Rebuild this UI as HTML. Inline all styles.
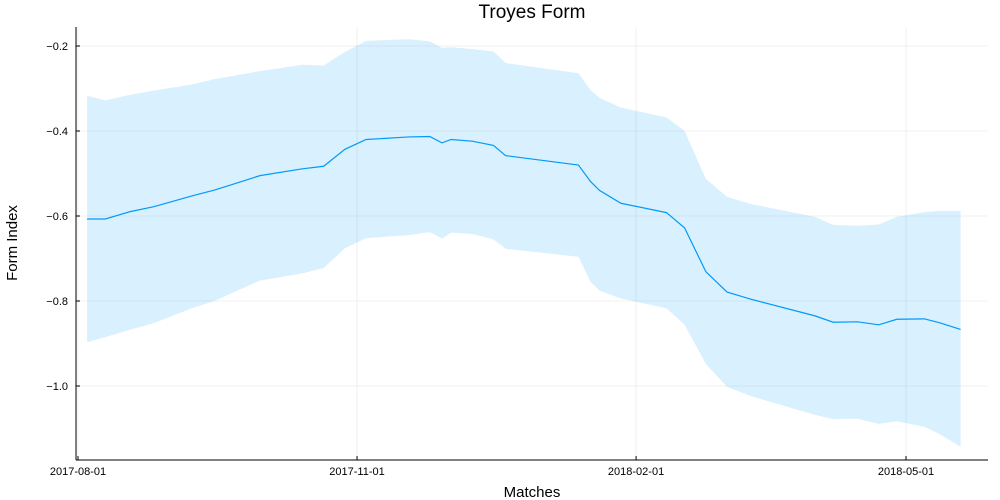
<!DOCTYPE html>
<html><head><meta charset="utf-8"><style>
body{margin:0;background:#fff;}
svg{display:block;font-family:"Liberation Sans",sans-serif;}
</style></head><body>
<svg id="chart" width="1000" height="500"></svg>
<script>
const days = [3,9,17,25,38,45,53,60,74,81,88,95,109,116,120,123,130,137,141,165,169,172,179,194,200,207,214,222,243,249,257,264,270,279,284,291];
const meanVals = [-0.607,-0.607,-0.590,-0.578,-0.552,-0.539,-0.521,-0.505,-0.489,-0.483,-0.443,-0.420,-0.414,-0.413,-0.428,-0.420,-0.424,-0.434,-0.458,-0.480,-0.519,-0.540,-0.570,-0.592,-0.628,-0.731,-0.779,-0.796,-0.835,-0.850,-0.849,-0.856,-0.843,-0.842,-0.851,-0.867];
const upperVals = [-0.317,-0.328,-0.315,-0.305,-0.290,-0.278,-0.268,-0.259,-0.244,-0.246,-0.214,-0.188,-0.184,-0.189,-0.204,-0.203,-0.207,-0.213,-0.240,-0.264,-0.304,-0.322,-0.345,-0.368,-0.400,-0.513,-0.555,-0.572,-0.602,-0.621,-0.623,-0.620,-0.602,-0.591,-0.588,-0.588];
const lowerVals = [-0.897,-0.885,-0.868,-0.852,-0.816,-0.800,-0.774,-0.752,-0.735,-0.722,-0.676,-0.652,-0.645,-0.638,-0.653,-0.639,-0.642,-0.655,-0.677,-0.696,-0.755,-0.776,-0.794,-0.817,-0.856,-0.948,-1.002,-1.024,-1.068,-1.078,-1.077,-1.089,-1.083,-1.096,-1.113,-1.143];
const yTicks = [-0.2,-0.4,-0.6,-0.8,-1.0];
const yTickLabels = ["−0.2","−0.4","−0.6","−0.8","−1.0"];
const xTickDays = [0,92,184,273];
const xTickLabels = ["2017-08-01","2017-11-01","2018-02-01","2018-05-01"];

const NS="http://www.w3.org/2000/svg";
const svg=document.getElementById('chart');
const L=76,R=988,T=27,B=460;
const sx=d=>78+d*3.033;
const sy=v=>46+(-0.2-v)*425;
function mk(tag,attrs,parent){const e=document.createElementNS(NS,tag);for(const k in attrs)e.setAttribute(k,attrs[k]);(parent||svg).appendChild(e);return e;}

// grid
yTicks.forEach((v,i)=>{
  const g=mk('line',{x1:L,x2:R,y1:sy(v),y2:sy(v),stroke:'#000','stroke-opacity':0.1,'stroke-width':0.6});
  
  
  const t=mk('text',{x:L-8,y:sy(v)+4,'text-anchor':'end','font-size':11,fill:'#000'});
  t.textContent=yTickLabels[i];
  
  
  const tk=mk('line',{x1:L,x2:L+4,y1:sy(v),y2:sy(v),stroke:'#000','stroke-width':1});
  
  
});
xTickDays.forEach((d,i)=>{
  const g=mk('line',{x1:sx(d),x2:sx(d),y1:T,y2:B,stroke:'#000','stroke-opacity':0.1,'stroke-width':0.6});
  
  
  const t=mk('text',{x:sx(d),y:475,'text-anchor':'middle','font-size':11,fill:'#000'});
  t.textContent=xTickLabels[i];
  
  
  const tk=mk('line',{x1:sx(d),x2:sx(d),y1:B,y2:B-4,stroke:'#000','stroke-width':1});
  
  
});

// band
let pts=days.map((d,i)=>sx(d)+','+sy(upperVals[i]));
for(let i=days.length-1;i>=0;i--)pts.push(sx(days[i])+','+sy(lowerVals[i]));
const band=mk('polygon',{points:pts.join(' '),fill:'#009af9','fill-opacity':0.15,stroke:'none'});



const line=mk('polyline',{points:days.map((d,i)=>sx(d)+','+sy(meanVals[i])).join(' '),fill:'none',stroke:'#009af9','stroke-width':1.2});



// axes
const ax=mk('line',{x1:L,x2:L,y1:T,y2:B,stroke:'#000','stroke-width':1});


const bx=mk('line',{x1:L,x2:R,y1:B,y2:B,stroke:'#000','stroke-width':1});



const title=mk('text',{x:532,y:18,'text-anchor':'middle','font-size':19,fill:'#000'});
title.textContent='Troyes Form';


const xt=mk('text',{x:532,y:497,'text-anchor':'middle','font-size':15,fill:'#000'});
xt.textContent='Matches';


const yt=mk('text',{x:0,y:0,'text-anchor':'middle','font-size':15,fill:'#000',transform:'translate(17,243) rotate(-90)'});
yt.textContent='Form Index';


</script>
</body></html>
